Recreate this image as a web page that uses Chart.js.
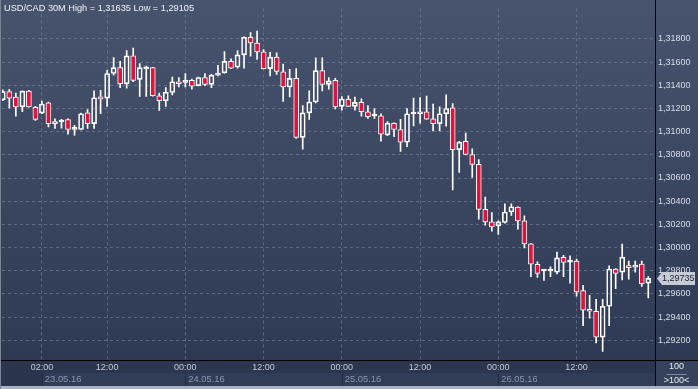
<!DOCTYPE html>
<html>
<head>
<meta charset="utf-8">
<script src="https://cdn.jsdelivr.net/npm/chart.js@4.4.1/dist/chart.umd.min.js"></script>
<style>
  html, body { margin: 0; padding: 0; background: #2c3650; }
  #wrap { width: 698px; height: 389px; position: relative; }
</style>
</head>
<body>
<div id="wrap"><canvas id="candles"></canvas></div>
<script>
// USD/CAD, 100 bars
const openP = [
  1.31275, 1.31345, 1.31298, 1.31213, 1.31349, 1.31210, 1.31159, 1.31249, 1.31069, 1.31083,
  1.31103, 1.31020, 1.31018, 1.31162, 1.31069, 1.31300, 1.31289, 1.31501, 1.31552, 1.31413,
  1.31653, 1.31450, 1.31541, 1.31552, 1.31309, 1.31266, 1.31337, 1.31430, 1.31425, 1.31442,
  1.31396, 1.31467, 1.31408, 1.31487, 1.31506, 1.31605, 1.31557, 1.31662, 1.31814, 1.31764,
  1.31687, 1.31543, 1.31642, 1.31515, 1.31385, 1.31459, 1.30950, 1.31162, 1.31255, 1.31526,
  1.31408, 1.31442, 1.31218, 1.31281, 1.31218, 1.31252, 1.31171, 1.31135, 1.31137, 1.30972,
  1.31072, 1.31018, 1.30908, 1.31152, 1.31154, 1.31171, 1.31111, 1.31069, 1.31154, 1.31205,
  1.30845, 1.30917, 1.30803, 1.30718, 1.30329, 1.30222, 1.30188, 1.30216, 1.30307, 1.30350,
  1.30230, 1.30032, 1.29856, 1.29798, 1.29798, 1.29787, 1.29917, 1.29874, 1.29883, 1.29629,
  1.29468, 1.29451, 1.29228, 1.29494, 1.29815, 1.29787, 1.29843, 1.29832, 1.29858, 1.29693
];
const highP = [
  1.31360, 1.31365, 1.31332, 1.31352, 1.31357, 1.31218, 1.31264, 1.31255, 1.31111, 1.31105,
  1.31111, 1.31055, 1.31160, 1.31190, 1.31351, 1.31357, 1.31529, 1.31639, 1.31605, 1.31698,
  1.31721, 1.31586, 1.31565, 1.31555, 1.31332, 1.31379, 1.31470, 1.31467, 1.31501, 1.31453,
  1.31470, 1.31501, 1.31495, 1.31571, 1.31690, 1.31628, 1.31698, 1.31817, 1.31853, 1.31868,
  1.31707, 1.31684, 1.31679, 1.31582, 1.31537, 1.31543, 1.31224, 1.31351, 1.31637, 1.31637,
  1.31467, 1.31459, 1.31303, 1.31309, 1.31298, 1.31283, 1.31224, 1.31199, 1.31154, 1.31086,
  1.31075, 1.31105, 1.31199, 1.31289, 1.31294, 1.31306, 1.31238, 1.31213, 1.31317, 1.31241,
  1.30917, 1.30987, 1.30851, 1.30758, 1.30436, 1.30301, 1.30230, 1.30377, 1.30377, 1.30352,
  1.30273, 1.30035, 1.29877, 1.29812, 1.29835, 1.29962, 1.29934, 1.29928, 1.29900, 1.29674,
  1.29589, 1.29553, 1.29553, 1.29843, 1.29818, 1.30030, 1.29883, 1.29883, 1.29883, 1.29750
];
const lowP = [
  1.31266, 1.31205, 1.31133, 1.31171, 1.31210, 1.31097, 1.31154, 1.31040, 1.31027, 1.31029,
  1.30978, 1.30970, 1.31015, 1.31027, 1.31027, 1.31154, 1.31218, 1.31487, 1.31379, 1.31374,
  1.31430, 1.31303, 1.31303, 1.31305, 1.31182, 1.31218, 1.31317, 1.31385, 1.31385, 1.31365,
  1.31393, 1.31396, 1.31379, 1.31481, 1.31504, 1.31543, 1.31548, 1.31548, 1.31650, 1.31622,
  1.31540, 1.31481, 1.31493, 1.31260, 1.31300, 1.30942, 1.30849, 1.31105, 1.31247, 1.31351,
  1.31365, 1.31196, 1.31184, 1.31215, 1.31184, 1.31133, 1.31114, 1.31114, 1.30917, 1.30964,
  1.30956, 1.30829, 1.30871, 1.31049, 1.31072, 1.31105, 1.31006, 1.31006, 1.31046, 1.30498,
  1.30648, 1.30800, 1.30606, 1.30244, 1.30193, 1.30142, 1.30114, 1.30210, 1.30278, 1.30159,
  1.29998, 1.29750, 1.29742, 1.29716, 1.29750, 1.29772, 1.29750, 1.29693, 1.29581, 1.29327,
  1.29392, 1.29177, 1.29105, 1.29327, 1.29646, 1.29722, 1.29727, 1.29787, 1.29666, 1.29567
];
const closeP = [
  1.31345, 1.31289, 1.31213, 1.31349, 1.31213, 1.31105, 1.31238, 1.31069, 1.31086, 1.31094,
  1.31018, 1.31022, 1.31154, 1.31069, 1.31292, 1.31283, 1.31501, 1.31552, 1.31413, 1.31653,
  1.31442, 1.31552, 1.31552, 1.31309, 1.31266, 1.31340, 1.31430, 1.31413, 1.31427, 1.31391,
  1.31467, 1.31408, 1.31487, 1.31501, 1.31605, 1.31548, 1.31662, 1.31814, 1.31764, 1.31687,
  1.31543, 1.31642, 1.31520, 1.31385, 1.31459, 1.30950, 1.31162, 1.31255, 1.31526, 1.31408,
  1.31438, 1.31213, 1.31281, 1.31218, 1.31252, 1.31171, 1.31128, 1.31137, 1.30978, 1.31072,
  1.31018, 1.30908, 1.31154, 1.31154, 1.31171, 1.31108, 1.31069, 1.31154, 1.31199, 1.30845,
  1.30908, 1.30803, 1.30718, 1.30329, 1.30222, 1.30178, 1.30222, 1.30307, 1.30352, 1.30230,
  1.30032, 1.29856, 1.29778, 1.29800, 1.29802, 1.29911, 1.29871, 1.29876, 1.29617, 1.29460,
  1.29451, 1.29228, 1.29494, 1.29815, 1.29778, 1.29917, 1.29827, 1.29849, 1.29688, 1.29735
];

const timeTickIdx = [6, 16, 28, 40, 52, 64, 76, 88];
const timeLabels = ['02:00', '12:00', '00:00', '12:00', '00:00', '12:00', '00:00', '12:00'];
const dateTickIdx = [6, 28, 52, 76];
const dateLabels = ['23.05.16', '24.05.16', '25.05.16', '26.05.16'];
const priceTicks = [1.292, 1.294, 1.296, 1.298, 1.300, 1.302, 1.304, 1.306, 1.308, 1.310, 1.312, 1.314, 1.316, 1.318];

const titleText = 'USD/CAD 30M High = 1,31635 Low = 1,29105';
const barsShown = '100';

const FONT = '"Liberation Sans", Arial, sans-serif';
const RED = '#e2123d';
const WHITE = '#ffffff';
const GRID = 'rgba(125,140,168,0.55)';

const fmt = v => v.toFixed(5).replace('.', ',');

const bodies = openP.map((o, i) => ({ x: i, y: [o, closeP[i]] }));
const upperWicks = openP.map((o, i) => ({ x: i, y: [Math.max(o, closeP[i]), highP[i]] }));
const lowerWicks = openP.map((o, i) => ({ x: i, y: [lowP[i], Math.min(o, closeP[i])] }));

const xMin = -0.1227, xMax = 100.03;
const dateShift = 0.45;

const chrome = {
  id: 'chrome',
  beforeDraw(chart) {
    const { ctx, width, height, chartArea: a } = chart;
    const x2 = chart.scales.x2;
    const xs = chart.scales.x;
    ctx.save();
    const g = ctx.createLinearGradient(0, 0, 0, a.bottom);
    g.addColorStop(0, '#48546e');
    g.addColorStop(1, '#2e3953');
    ctx.fillStyle = g;
    ctx.fillRect(0, 0, width, a.bottom);
    ctx.fillStyle = '#2b354e';
    ctx.fillRect(0, a.bottom, width, height - a.bottom);
    // date row
    const d0 = xs.getPixelForValue(dateTickIdx[0]);
    ctx.fillStyle = '#313c56';
    ctx.fillRect(d0, x2.top, a.right - d0, x2.bottom - x2.top);
    ctx.fillStyle = '#222b3f';
    dateTickIdx.forEach(v => {
      const px = Math.round(xs.getPixelForValue(v));
      ctx.fillRect(px, x2.top, 1, x2.bottom - x2.top);
    });
    // corner box
    ctx.fillStyle = '#36425c';
    ctx.fillRect(a.right, a.bottom, width - a.right, height - a.bottom);
    ctx.restore();
  },
  afterDraw(chart) {
    const { ctx, width, height, chartArea: a } = chart;
    const ys = chart.scales.y;
    ctx.save();
    // frame lines
    ctx.fillStyle = '#000000';
    ctx.fillRect(Math.round(a.right), 0, 1, height);
    ctx.fillRect(0, Math.round(a.bottom), width, 1);
    ctx.fillStyle = '#aab2bf';
    ctx.fillRect(0, height - 3, width, 3);
    ctx.fillStyle = '#7a8496';
    ctx.fillRect(0, 0, 1, height);

    // title
    ctx.font = '9.2px ' + FONT;
    ctx.fillStyle = '#eef2f8';
    ctx.textBaseline = 'middle';
    ctx.textAlign = 'left';
    ctx.fillText(titleText, 4, 8.5);

    // bars-shown box
    const cx = (a.right + width) / 2;
    ctx.textAlign = 'center';
    ctx.font = '9px ' + FONT;
    ctx.fillStyle = '#e6eaf0';
    ctx.fillText(barsShown, cx, a.bottom + 7);
    ctx.fillStyle = '#7d889c';
    ctx.fillRect(cx - 10, a.bottom + 14, 20, 1);
    ctx.fillStyle = '#e6eaf0';
    ctx.fillText('>' + barsShown + '<', cx, a.bottom + 21);

    // last price tag
    const last = closeP[closeP.length - 1];
    const py = Math.round(ys.getPixelForValue(last)) + 0.5;
    const l = a.right + 2, r = width - 3;
    ctx.beginPath();
    ctx.moveTo(l, py);
    ctx.lineTo(l + 5, py - 6.5);
    ctx.lineTo(r, py - 6.5);
    ctx.lineTo(r, py + 6.5);
    ctx.lineTo(l + 5, py + 6.5);
    ctx.closePath();
    ctx.fillStyle = '#c6cbd4';
    ctx.fill();
    ctx.fillStyle = '#1b2335';
    ctx.textAlign = 'left';
    ctx.fillText(fmt(last), l + 5, py);
    ctx.restore();
  }
};

Chart.defaults.font.family = FONT;

new Chart(document.getElementById('candles'), {
  type: 'bar',
  data: {
    datasets: [
      {
        label: 'body',
        data: bodies,
        barThickness: 5,
        minBarLength: 2,
        borderWidth: 1,
        borderSkipped: false,
        borderColor: WHITE,
        backgroundColor: c => openP[c.dataIndex] > closeP[c.dataIndex] ? RED : 'rgba(0,0,0,0)',
        grouped: false
      },
      {
        label: 'upper',
        data: upperWicks,
        barThickness: 1,
        borderWidth: 0,
        backgroundColor: WHITE,
        grouped: false
      },
      {
        label: 'lower',
        data: lowerWicks,
        barThickness: 1,
        borderWidth: 0,
        backgroundColor: WHITE,
        grouped: false
      }
    ]
  },
  options: {
    responsive: true,
    maintainAspectRatio: false,
    animation: false,
    events: [],
    layout: { padding: { left: 2, top: 2, right: 0, bottom: 2 } },
    plugins: { legend: { display: false }, tooltip: { enabled: false } },
    scales: {
      x: {
        type: 'linear',
        position: 'bottom',
        min: xMin,
        max: xMax,
        offset: false,
        grid: { color: GRID, drawTicks: false, offset: false },
        border: { display: false, dash: [3, 3] },
        ticks: {
          autoSkip: false,
          maxRotation: 0,
          padding: 2,
          color: '#c2cad8',
          font: { size: 9 },
          callback: (v, i) => timeLabels[i]
        },
        afterBuildTicks: s => { s.ticks = timeTickIdx.map(v => ({ value: v })); },
        afterFit: s => { s.height = 13; }
      },
      x2: {
        type: 'linear',
        position: 'bottom',
        min: xMin,
        max: xMax,
        offset: false,
        grid: { display: false, drawTicks: false },
        border: { display: false },
        ticks: {
          autoSkip: false,
          maxRotation: 0,
          align: 'start',
          padding: 1,
          color: '#8b96ab',
          font: { size: 9.4 },
          callback: (v, i) => dateLabels[i]
        },
        afterBuildTicks: s => { s.ticks = dateTickIdx.map(v => ({ value: v + dateShift })); },
        afterFit: s => { s.height = 14; }
      },
      y: {
        type: 'linear',
        position: 'right',
        min: 1.290306,
        max: 1.320625,
        grid: { color: GRID, drawTicks: false },
        border: { display: false, dash: [3, 3] },
        ticks: {
          autoSkip: false,
          padding: 3,
          color: '#d6deea',
          font: { size: 9 },
          callback: v => fmt(v)
        },
        afterBuildTicks: s => { s.ticks = priceTicks.map(v => ({ value: v })); },
        afterFit: s => { s.width = 43; }
      }
    }
  },
  plugins: [chrome]
});
</script>
</body>
</html>
